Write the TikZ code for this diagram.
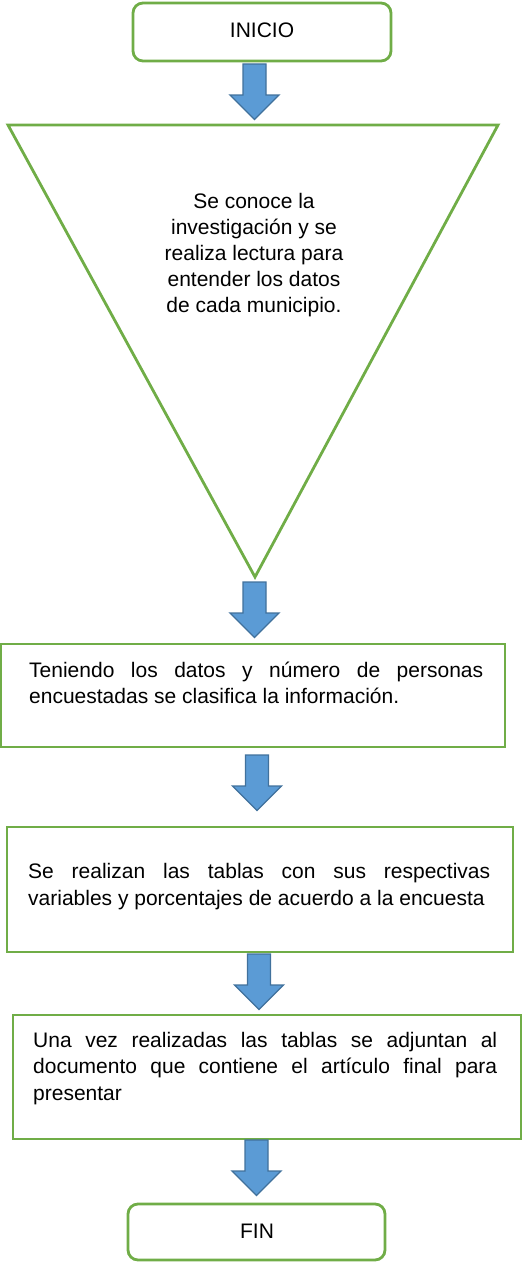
\documentclass[tikz,border=0pt]{standalone}
\usepackage{fontspec}
\setmainfont{Liberation Sans}
\definecolor{boxgreen}{HTML}{70AD47}
\definecolor{arrowfill}{HTML}{5B9BD5}
\definecolor{arrowline}{HTML}{41719C}
\tikzset{
  term/.style={draw=boxgreen, line width=2.8pt, rounded corners=10pt, fill=white, inner sep=0pt},
  procbox/.style={draw=boxgreen, line width=2.8pt, fill=white, inner sep=0pt},
  bodytext/.style={inner sep=0pt, font=\fontsize{21}{26.5}\selectfont},
  justtext/.style={bodytext, align=justify, anchor=base west,
     execute at begin node={\hyphenpenalty=10000\exhyphenpenalty=10000\tolerance=10000\emergencystretch=0pt}},
  blockarrow/.style={draw=arrowline, line width=1.3pt, fill=arrowfill, line join=miter},
  darrow/.pic={\draw[blockarrow] (-11.5,0) -- (11.5,0) -- (11.5,31) -- (24.5,31) -- (0,55.5) -- (-24.5,31) -- (-11.5,31) -- cycle;}
}
\begin{document}
\begin{tikzpicture}[x=1pt,y=-1pt]
\useasboundingbox (0,0) rectangle (524,1263);
% INICIO
\node[term, minimum width=258pt, minimum height=58pt] (inicio) at (262,32) {};
\node[bodytext, anchor=base] (inicioT) at (262,37.5) {INICIO};
\pic at (254.5,64) {darrow};
% triangle
\coordinate (tl) at (8,125);
\coordinate (tr) at (498,125);
\coordinate (tb) at (255,577);
\draw[boxgreen, line width=2.8pt, line join=miter] (tl) -- (tr) -- (tb) -- cycle;
\node[bodytext, align=center, anchor=base, font=\fontsize{21}{26}\selectfont] (tri) at (254,312.5)
  {Se conoce la\\investigación y se\\realiza lectura para\\entender los datos\\de cada municipio.};
\pic at (254.5,582) {darrow};
% box 3
\node[procbox, minimum width=504pt, minimum height=103pt] (b3) at (253,695.5) {};
\node[justtext, text width=454pt] (b3t) at (29,677)
  {Teniendo los datos y número de personas encuestadas se clasifica la información.};
\pic at (257,755) {darrow};
% box 4
\node[procbox, minimum width=506pt, minimum height=125pt] (b4) at (260,889.5) {};
\node[justtext, text width=462pt] (b4t) at (28,878.5)
  {Se realizan las tablas con sus respectivas variables y porcentajes de acuerdo a la encuesta};
\pic at (259,954) {darrow};
% box 5
\node[procbox, minimum width=508pt, minimum height=124pt] (b5) at (267,1077) {};
\node[justtext, text width=464pt] (b5t) at (33,1047)
  {Una vez realizadas las tablas se adjuntan al documento que contiene el artículo final para presentar};
\pic at (256.5,1140) {darrow};
% FIN
\node[term, minimum width=257pt, minimum height=56pt] (fin) at (256.5,1232) {};
\node[bodytext, anchor=base] (finT) at (257,1238.5) {FIN};
\end{tikzpicture}
\end{document}
